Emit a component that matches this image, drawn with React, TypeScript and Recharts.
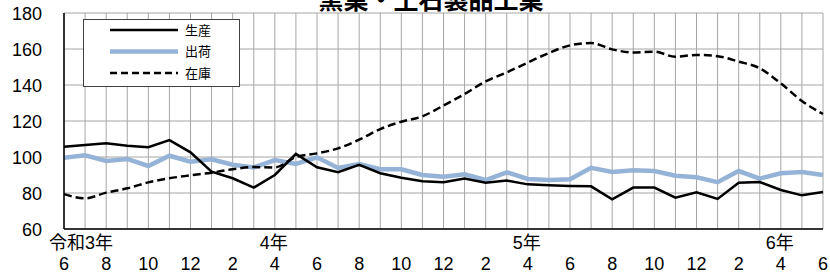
import React from 'react';
import { LineChart, Line, XAxis, YAxis, CartesianGrid } from 'recharts';

const months = ['6','7','8','9','10','11','12','1','2','3','4','5','6','7','8','9','10','11','12','1','2','3','4','5','6','7','8','9','10','11','12','1','2','3','4','5','6'];
const production = [105.7,106.7,107.6,106.3,105.4,109.4,102.6,91.8,88.2,83,90,101.7,94.3,91.5,95.6,91,88.5,86.5,86,88,85.7,86.9,84.8,84.3,83.9,83.7,76.5,83,83,77.4,80.4,76.7,85.7,86.1,81.7,78.7,80.6];
const shipments = [99.6,100.9,97.8,98.9,95,100.7,97.4,98.7,95.7,94.2,98.3,96.1,99.8,93.9,96.1,93.2,93.2,90,89.1,90.4,87.2,91.5,87.8,87.2,87.6,94,91.7,92.7,92.2,89.6,88.7,86,92.2,88,91,91.7,90];
const inventory = [79.4,77,80.2,82.6,85.9,88.2,89.8,91.3,93.2,94.4,94.2,100,102,104.8,109.6,115.5,119.6,122.6,128.6,135,142,147,152.5,157.8,162,163.3,159.8,158.1,158.5,155.7,156.7,156,153,149.3,140.9,131.1,123.9];
const yTicks = [60,80,100,120,140,160,180];
const yearLabelIndex = [0,10,22,34];
const yearLabelText = ['令和3年','4年','5年','6年'];
const seriesNames = ['生産','出荷','在庫'];
const title = '窯業・土石製品工業';

const data = months.map((m, i) => ({
  key: String(i),
  m,
  production: production[i],
  shipments: shipments[i],
  inventory: inventory[i],
}));

const FONT = "'Liberation Sans','Noto Sans CJK JP',sans-serif";

const XTick = (props: any) => {
  const { x, y, payload } = props;
  const idx = payload.index;
  const yi = yearLabelIndex.indexOf(idx);
  return (
    <g>
      {idx % 2 === 0 && (
        <text x={x} y={y + 33} textAnchor="middle" fontSize={18} fontFamily={FONT} fill="#000">{months[idx]}</text>
      )}
      {yi >= 0 && (
        <text x={x - 15} y={y + 12} textAnchor="start" fontSize={18} fontFamily={FONT} fill="#000">{yearLabelText[yi]}</text>
      )}
    </g>
  );
};

const YTick = (props: any) => {
  const { y, payload } = props;
  return (
    <text x={42} y={y} dy={6.5} textAnchor="end" fontSize={18} fontFamily={FONT} fill="#000">{payload.value}</text>
  );
};

const legendRows = [
  { name: seriesNames[0], stroke: '#000', w: 2.5, dash: undefined as string | undefined },
  { name: seriesNames[1], stroke: '#95b3d7', w: 4.5, dash: undefined as string | undefined },
  { name: seriesNames[2], stroke: '#000', w: 2.5, dash: '7 4' },
];

const LegendBox = () => (
  <div style={{ position: 'absolute', left: 83, top: 19, width: 155, height: 66, border: '1px solid #404040', background: '#fff' }}>
    <svg width={155} height={66} style={{ display: 'block' }}>
      {legendRows.map((r, i) => (
        <g key={r.name}>
          <line x1={26} x2={94} y1={10 + i * 21.5} y2={10 + i * 21.5} stroke={r.stroke} strokeWidth={r.w} strokeDasharray={r.dash} />
          <text x={101} y={10 + i * 21.5} dy={4.5} fontSize={13} fontFamily="'Noto Sans CJK JP',sans-serif" fill="#000">{r.name}</text>
        </g>
      ))}
    </svg>
  </div>
);

export default function App() {
  return (
    <div style={{ position: 'absolute', left: 0, top: 0, width: 830, height: 278, background: '#fff', overflow: 'hidden' }}>
      <LineChart width={830} height={278} data={data} margin={{ top: 13, right: 7, bottom: 0, left: 0 }}>
        <CartesianGrid stroke="#a6a6a6" strokeWidth={1} />
        <XAxis dataKey="key" interval={0} tickLine={false} axisLine={{ stroke: '#000', strokeWidth: 1.5 }} tick={<XTick />} height={49} />
        <YAxis domain={[60, 180]} ticks={yTicks} width={64} tickLine={false} axisLine={{ stroke: '#000', strokeWidth: 1.5 }} tick={<YTick />} interval={0} />
        <Line dataKey="shipments" name={seriesNames[1]} type="linear" stroke="#95b3d7" strokeWidth={4.5} dot={false} isAnimationActive={false} />
        <Line dataKey="production" name={seriesNames[0]} type="linear" stroke="#000" strokeWidth={2.5} dot={false} isAnimationActive={false} />
        <Line dataKey="inventory" name={seriesNames[2]} type="monotone" stroke="#000" strokeWidth={2.5} strokeDasharray="8 4" dot={false} isAnimationActive={false} />
      </LineChart>
      <LegendBox />
      <svg width={830} height={30} style={{ position: 'absolute', left: 0, top: 0, pointerEvents: 'none' }}>
        <text x={431} y={9} textAnchor="middle" fontSize={25} fontWeight="bold" fontFamily="'Noto Sans CJK JP',sans-serif" fill="#000">{title}</text>
      </svg>
    </div>
  );
}
